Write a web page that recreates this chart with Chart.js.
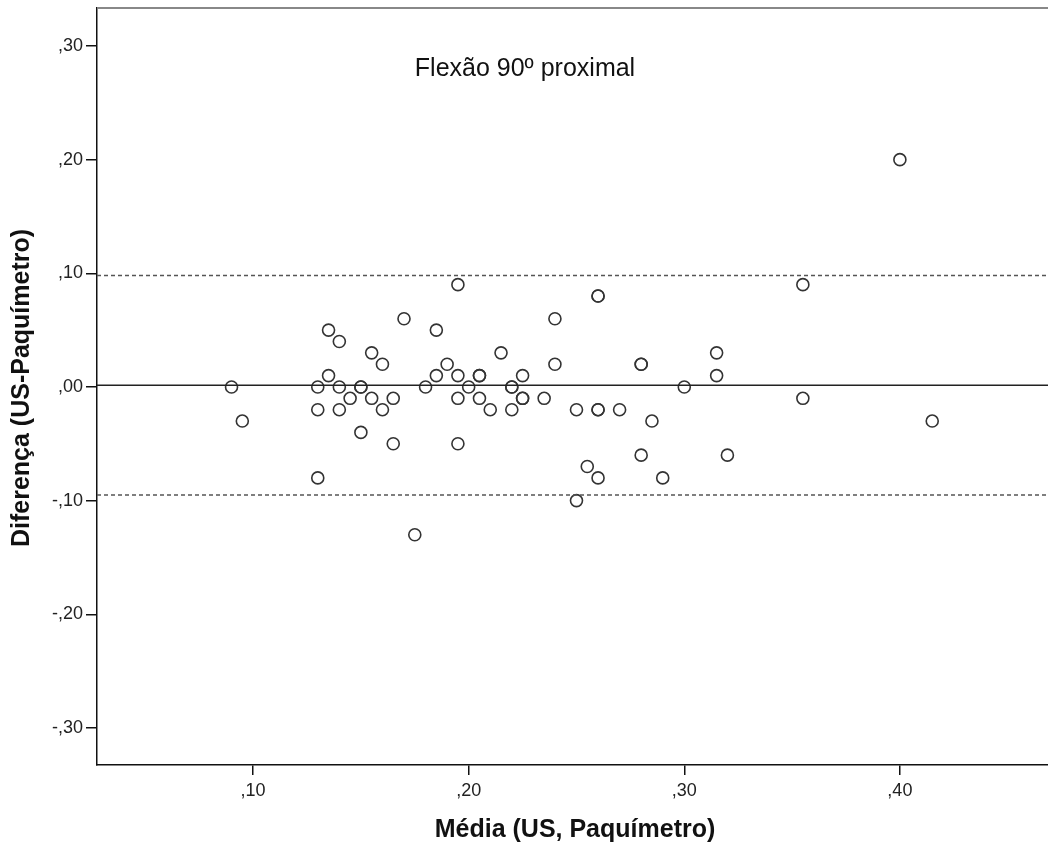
<!DOCTYPE html>
<html>
<head>
<meta charset="utf-8">
<script src="https://cdn.jsdelivr.net/npm/chart.js@4"></script>
<style>
html,body{margin:0;padding:0;background:#fff;}
#wrap{width:1048px;height:846px;position:relative;}
</style>
</head>
<body>
<div id="wrap"><canvas id="c" width="1048" height="846"></canvas></div>
<script>
const chartTitle = "Flexão 90º proximal";
const xTitle = "Média (US, Paquímetro)";
const yTitle = "Diferença (US-Paquímetro)";

const meanX = [0.09,0.095,0.13,0.13,0.13,0.135,0.135,0.14,0.14,0.14,0.145,0.15,0.15,0.15,0.155,0.155,0.16,0.16,0.165,0.165,0.17,0.175,0.18,0.185,0.185,0.19,0.195,0.195,0.195,0.195,0.20,0.205,0.205,0.205,0.21,0.215,0.22,0.22,0.22,0.225,0.225,0.225,0.235,0.24,0.24,0.25,0.25,0.255,0.26,0.26,0.26,0.26,0.26,0.27,0.28,0.28,0.28,0.285,0.29,0.30,0.315,0.315,0.32,0.355,0.355,0.40,0.415];
const diffY = [0.00,-0.03,0.00,-0.02,-0.08,0.05,0.01,0.04,0.00,-0.02,-0.01,0.00,0.00,-0.04,0.03,-0.01,0.02,-0.02,-0.01,-0.05,0.06,-0.13,0.00,0.05,0.01,0.02,0.09,0.01,-0.01,-0.05,0.00,0.01,0.01,-0.01,-0.02,0.03,0.00,0.00,-0.02,0.01,-0.01,-0.01,-0.01,0.06,0.02,-0.02,-0.10,-0.07,0.08,0.08,-0.02,-0.02,-0.08,-0.02,0.02,0.02,-0.06,-0.03,-0.08,0.00,0.03,0.01,-0.06,0.09,-0.01,0.20,-0.03];

const xRange = [0.0276, 0.4687];
const yRange = [-0.3326, 0.3334];
const xTicks = [0.10, 0.20, 0.30, 0.40];
const yTicks = [-0.30, -0.20, -0.10, 0.00, 0.10, 0.20, 0.30];
const meanDiff = 0.0015;
const upperLimit = 0.098;
const lowerLimit = -0.095;

function fmt(v){
  let s = (Math.round(v*100)/100).toFixed(2);
  if (s === "-0.00") s = "0.00";
  return s.replace("0.", ",");
}

const points = meanX.map((x,i)=>({x:x, y:diffY[i]}));
const hline = v => xRange.map(x=>({x:x, y:v}));
const FONT = '"Liberation Sans", Arial, sans-serif';

const textPlugin = {
  id:'texts',
  beforeDraw(chart){
    const ctx = chart.ctx;
    ctx.save();
    ctx.fillStyle = '#fff';
    ctx.fillRect(0,0,chart.width,chart.height);
    ctx.restore();
  },
  afterDraw(chart){
    const ctx = chart.ctx;
    const a = chart.chartArea;
    ctx.save();
    ctx.strokeStyle = '#888';
    ctx.lineWidth = 2;
    ctx.beginPath();
    ctx.moveTo(a.left, a.top);
    ctx.lineTo(a.right, a.top);
    ctx.stroke();
    ctx.fillStyle = '#111';
    ctx.textAlign = 'center';
    ctx.textBaseline = 'middle';
    ctx.font = '25px ' + FONT;
    ctx.fillText(chartTitle, 525, 69);
    ctx.font = 'bold 25px ' + FONT;
    ctx.fillText(xTitle, 575, 830);
    ctx.translate(22, 388);
    ctx.rotate(-Math.PI/2);
    ctx.fillText(yTitle, 0, 0);
    ctx.restore();
  }
};

new Chart(document.getElementById('c'), {
  type:'scatter',
  data:{
    datasets:[
      {type:'line', data:hline(upperLimit), borderColor:'#555', borderWidth:1.5, borderDash:[4,3], pointRadius:0, fill:false},
      {type:'line', data:hline(lowerLimit), borderColor:'#555', borderWidth:1.5, borderDash:[4,3], pointRadius:0, fill:false},
      {type:'line', data:hline(meanDiff), borderColor:'#222', borderWidth:1.5, pointRadius:0, fill:false},
      {data:points, pointRadius:6, pointBorderWidth:1.6, pointBorderColor:'#333', pointBackgroundColor:'rgba(0,0,0,0)', pointHoverRadius:6}
    ]
  },
  options:{
    responsive:false,
    animation:false,
    devicePixelRatio:1,
    layout:{autoPadding:false, padding:{top:8, right:0, bottom:0, left:0}},
    plugins:{legend:{display:false}, tooltip:{enabled:false}},
    scales:{
      x:{
        type:'linear', min:xRange[0], max:xRange[1],
        afterBuildTicks(s){ s.ticks = xTicks.map(v=>({value:v})); },
        afterFit(s){ s.height = 81; s.paddingLeft = 0; s.paddingRight = 0; },
        border:{color:'#111', width:1.5},
        grid:{drawOnChartArea:false, drawTicks:true, tickLength:10, color:'#111', lineWidth:1.5},
        ticks:{callback:v=>fmt(v), color:'#222', font:{family:FONT, size:18}, padding:5, maxRotation:0}
      },
      y:{
        type:'linear', min:yRange[0], max:yRange[1],
        afterBuildTicks(s){ s.ticks = yTicks.map(v=>({value:v})); },
        afterFit(s){ s.width = 97; s.paddingTop = 0; s.paddingBottom = 0; },
        border:{color:'#111', width:1.5},
        grid:{drawOnChartArea:false, drawTicks:true, tickLength:11, color:'#111', lineWidth:1.5},
        ticks:{callback:v=>fmt(v), color:'#222', font:{family:FONT, size:18}, padding:3}
      }
    }
  },
  plugins:[textPlugin]
});
</script>
</body>
</html>
